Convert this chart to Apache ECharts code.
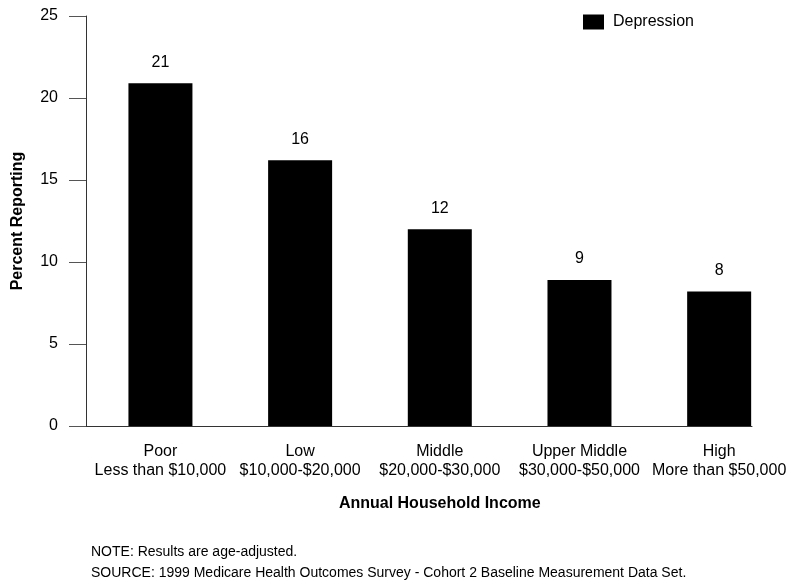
<!DOCTYPE html>
<html>
<head>
<meta charset="utf-8">
<script src="https://cdn.jsdelivr.net/npm/echarts@6/dist/echarts.min.js"></script>
<style>html,body{margin:0;padding:0;background:#fff}#c{width:795px;height:586px}</style>
</head>
<body>
<div id="c"></div>
<script>
var groups = ["Poor", "Low", "Middle", "Upper Middle", "High"];
var ranges = ["Less than $10,000", "$10,000-$20,000", "$20,000-$30,000", "$30,000-$50,000", "More than $50,000"];
var depression = [20.9, 16.2, 12.0, 8.9, 8.2];
var yTicks = [0, 5, 10, 15, 20, 25];

var FONT = '"Liberation Sans", Arial, Helvetica, sans-serif';
var categories = groups.map(function (g, i) { return g + "\n" + ranges[i]; });

var chart = echarts.init(document.getElementById('c'));
chart.setOption({
  animation: false,
  textStyle: { fontFamily: FONT, color: '#000' },
  grid: [
    { left: 86, right: 43, top: 16, bottom: 160, containLabel: false, outerBoundsMode: 'none' },
    { left: 90.6, right: 6, top: 16, bottom: 160, containLabel: false, outerBoundsMode: 'none' }
  ],
  legend: {
    left: 583, top: 14, padding: 0,
    itemWidth: 21, itemHeight: 15,
    icon: 'rect',
    textStyle: { fontFamily: FONT, fontSize: 16, color: '#000', padding: [0, 0, 0, 4] },
    data: ['Depression']
  },
  title: [
    { text: 'NOTE: Results are age-adjusted.', left: 91, top: 545, padding: 0,
      textStyle: { fontFamily: FONT, fontSize: 14, fontWeight: 'normal', color: '#000' } },
    { text: 'SOURCE: 1999 Medicare Health Outcomes Survey - Cohort 2 Baseline Measurement Data Set.', left: 91, top: 566, padding: 0,
      textStyle: { fontFamily: FONT, fontSize: 14, fontWeight: 'normal', color: '#000' } }
  ],
  xAxis: [
    { gridIndex: 0, type: 'value', min: 0, max: 1,
      axisLine: { show: true, lineStyle: { color: '#333', width: 1 } },
      axisTick: { show: false }, axisLabel: { show: false }, splitLine: { show: false } },
    { gridIndex: 1, type: 'category', data: categories,
      axisLine: { show: false }, axisTick: { show: false },
      axisLabel: { fontFamily: FONT, fontSize: 16, lineHeight: 19, color: '#000', margin: 16, interval: 0 },
      name: 'Annual Household Income', nameLocation: 'middle', nameGap: 70,
      nameTextStyle: { fontFamily: FONT, fontSize: 16, fontWeight: 'bold', color: '#000' } }
  ],
  yAxis: [
    { gridIndex: 0, type: 'value', min: yTicks[0], max: yTicks[yTicks.length - 1], interval: 5,
      axisLine: { show: true, lineStyle: { color: '#333', width: 1 } },
      axisTick: { show: true, length: 17, lineStyle: { color: '#555' } },
      axisLabel: { fontFamily: FONT, fontSize: 16, color: '#000', margin: 28 },
      splitLine: { show: false },
      name: 'Percent Reporting', nameLocation: 'middle', nameGap: 60,
      nameTextStyle: { fontFamily: FONT, fontSize: 16, fontWeight: 'bold', color: '#000' } },
    { gridIndex: 1, type: 'value', min: 0, max: 25, show: false }
  ],
  series: [{
    name: 'Depression', type: 'bar', xAxisIndex: 1, yAxisIndex: 1,
    data: depression, barWidth: 64,
    itemStyle: { color: '#000' },
    label: { show: true, position: 'top', distance: 13, fontFamily: FONT, fontSize: 16, color: '#000',
      formatter: function (p) { return Math.round(p.value); } }
  }]
});
</script>
</body>
</html>
